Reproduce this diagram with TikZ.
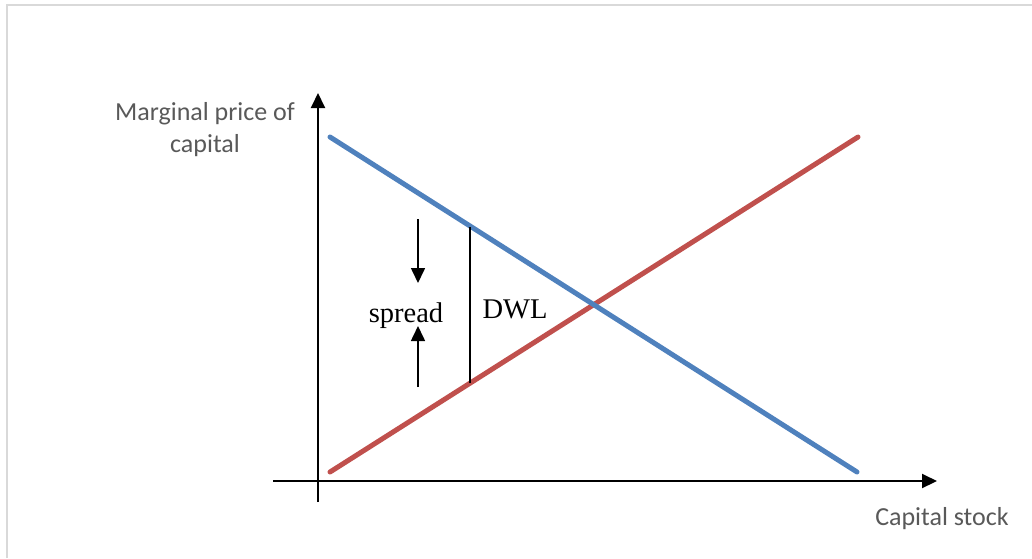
\documentclass[tikz,border=0pt]{standalone}
\usepackage{fontspec}
\setmainfont{Liberation Serif}
\newfontfamily\labelfont{Carlito}
\usetikzlibrary{positioning,arrows.meta}
\definecolor{supplyred}{HTML}{C0504D}
\definecolor{demandblue}{HTML}{4F81BD}
\definecolor{labelgray}{HTML}{595959}
\definecolor{framegray}{HTML}{D9D9D9}

\begin{document}
\begin{tikzpicture}[
    x=1pt, y=-1pt,
    axis/.style={draw=black, line width=2pt, -{Triangle[length=15pt,width=14pt]}},
    curve/.style={line width=5pt, line cap=round},
    spreadarrow/.style={draw=black, line width=1.6pt, -{Triangle[length=15pt,width=14pt]}},
    axislabel/.style={font=\labelfont\fontsize{26}{32}\selectfont, text=labelgray, align=center, inner sep=0pt},
    serlabel/.style={font=\fontsize{28.5}{34}\selectfont, inner sep=0pt, anchor=base}
]
\useasboundingbox (0,0) rectangle (1032,558);
% frame
\draw[framegray, line width=2pt] (7,558) -- (7,5) -- (1032,5);

% axes
\coordinate (origin) at (318,481);
\coordinate (ybot) at (318,502);
\coordinate (ytop) at (318,93);
\coordinate (xleft) at (273,481);
\coordinate (xright) at (937,481);
\draw[axis] (ybot) -- (ytop);
\draw[axis] (xleft) -- (xright);

% supply and demand
\coordinate (s0) at (330,472);
\coordinate (s1) at (858,137);
\coordinate (d0) at (330,137);
\coordinate (d1) at (857,472);
\draw[curve, supplyred] (s0) -- (s1);
\draw[curve, demandblue] (d0) -- (d1);

% wedge
\coordinate (wtop) at (470,227);
\coordinate (wbot) at (470,383);
\draw[line width=1.2pt] (wtop) -- (wbot);

\node[serlabel] (spread) at (406,322) {spread};
\node[serlabel] (dwl) at (515,318) {DWL};

\coordinate (dn0) at (418,219);
\coordinate (dn1) at (418,283);
\coordinate (up0) at (418,387);
\coordinate (up1) at (418,326);
\draw[spreadarrow] (dn0) -- (dn1);
\draw[spreadarrow] (up0) -- (up1);

% labels
\node[axislabel, anchor=base] (ylabel) at (205,152) {Marginal price of\\capital};
\node[axislabel, anchor=base] (xlabel) at (942,525) {Capital stock};
\end{tikzpicture}
\end{document}
